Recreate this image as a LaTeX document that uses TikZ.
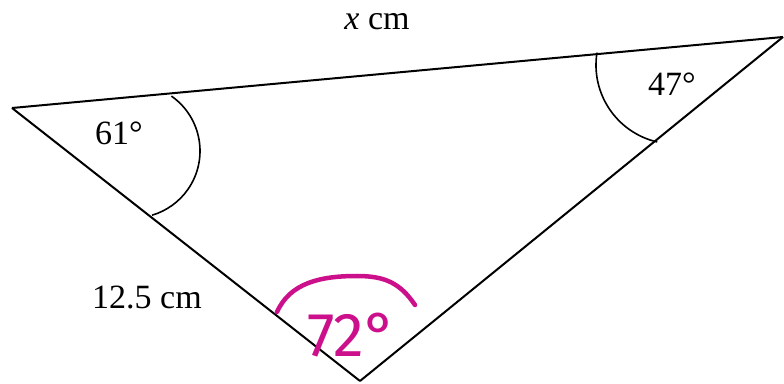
\documentclass[tikz,border=0pt]{standalone}
\usepackage{fontspec}
\setmainfont{Liberation Serif}
\newfontfamily\handfont{Fira Sans}
\definecolor{pen}{RGB}{204,16,140}
\tikzstyle{lbl}=[inner sep=0pt, anchor=base, font=\fontsize{34}{36}\selectfont]
\tikzstyle{tri}=[line width=2pt, line join=miter]
\tikzstyle{anglearc}=[line width=1.6pt]
\tikzstyle{ink}=[draw=pen, line width=4.5pt, line cap=round]

\begin{document}
\begin{tikzpicture}[x=1pt, y=1pt]
    \useasboundingbox (0,0) rectangle (784,383);
    \coordinate (a) at (12,275);
    \coordinate (b) at (783,346);
    \coordinate (c) at (360,2);
    \coordinate (oa) at (133,232);
    \coordinate (ob) at (675,318);
    \draw[tri] (a) -- (b);
    \draw[tri] (b) -- (c);
    \draw[tri] (c) -- (a);
    \draw[anglearc] (oa) ++(55:67) arc (55:-73.5:67);
    \draw[anglearc] (ob) ++(171:79) arc (171:257:79);
    \node[lbl] (xlab) at (377,353) {\textit{x} cm};
    \node[lbl] (lab61) at (119,238) {61°};
    \node[lbl] (lab47) at (672,287) {47°};
    \node[lbl] (lab125) at (147,75) {12.5 cm};
    % handwritten answer
    \draw[ink] (277,71) .. controls (290,100) and (320,107) .. (357,107)
        .. controls (385,107) and (400,100) .. (415,78);
    \node[text=pen, inner sep=0pt, anchor=base, font=\handfont\fontsize{62}{62}\selectfont] (lab72) at (352,27) {72°};
\end{tikzpicture}
\end{document}
